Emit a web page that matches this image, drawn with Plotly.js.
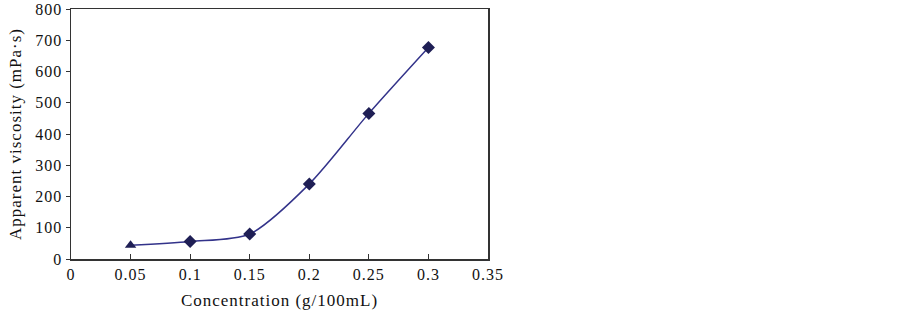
<!DOCTYPE html>
<html>
<head>
<meta charset="utf-8">
<script src="https://cdn.plot.ly/plotly-3.0.1.min.js"></script>
<style>
html,body{margin:0;padding:0;background:#fff;}
#chart{width:902px;height:318px;}
#chart text{letter-spacing:1px;}
</style>
</head>
<body>
<div id="chart"></div>
<script>
const concentration = [0.05, 0.1, 0.15, 0.2, 0.25, 0.3];
const viscosity = [44, 56, 80, 240, 466, 677];
const markerSymbols = ['triangle-up', 'diamond', 'diamond', 'diamond', 'diamond', 'diamond'];
const xTicks = [0, 0.05, 0.1, 0.15, 0.2, 0.25, 0.3, 0.35];
const xTickLabels = ['0', '0.05', '0.1', '0.15', '0.2', '0.25', '0.3', '0.35'];
const yTicks = [0, 100, 200, 300, 400, 500, 600, 700, 800];

const tickFont = {family: '"Liberation Serif", "Times New Roman", serif', size: 16, color: '#111'};
const titleFont = {family: '"Liberation Serif", "Times New Roman", serif', size: 17, color: '#111'};

Plotly.newPlot('chart', [{
  x: concentration,
  y: viscosity,
  type: 'scatter',
  mode: 'lines+markers',
  line: {color: '#33338a', width: 1.5, shape: 'spline', smoothing: 0.8},
  marker: {symbol: markerSymbols, size: 10, color: '#1f1f55'},
  showlegend: false
}], {
  width: 902, height: 318,
  margin: {l: 71, r: 414, t: 9, b: 59},
  paper_bgcolor: '#fff', plot_bgcolor: '#fff',
  font: tickFont,
  xaxis: {
    range: [0, 0.35], tickvals: xTicks, ticktext: xTickLabels,
    showgrid: false, zeroline: false,
    showline: true, linecolor: '#333', linewidth: 1.5, mirror: true,
    ticks: 'inside', ticklen: 5, tickcolor: '#333',
    tickfont: tickFont,
    title: {text: 'Concentration (g/100mL)', font: titleFont, standoff: 12}
  },
  yaxis: {
    range: [0, 800], tickvals: yTicks,
    showgrid: false, zeroline: false,
    showline: true, linecolor: '#333', linewidth: 1.5, mirror: true,
    ticks: 'outside', ticklen: 4, tickcolor: '#333',
    tickfont: tickFont,
    title: {text: 'Apparent viscosity (mPa·s)', font: titleFont, standoff: 12}
  }
}, {staticPlot: true});
</script>
</body>
</html>
